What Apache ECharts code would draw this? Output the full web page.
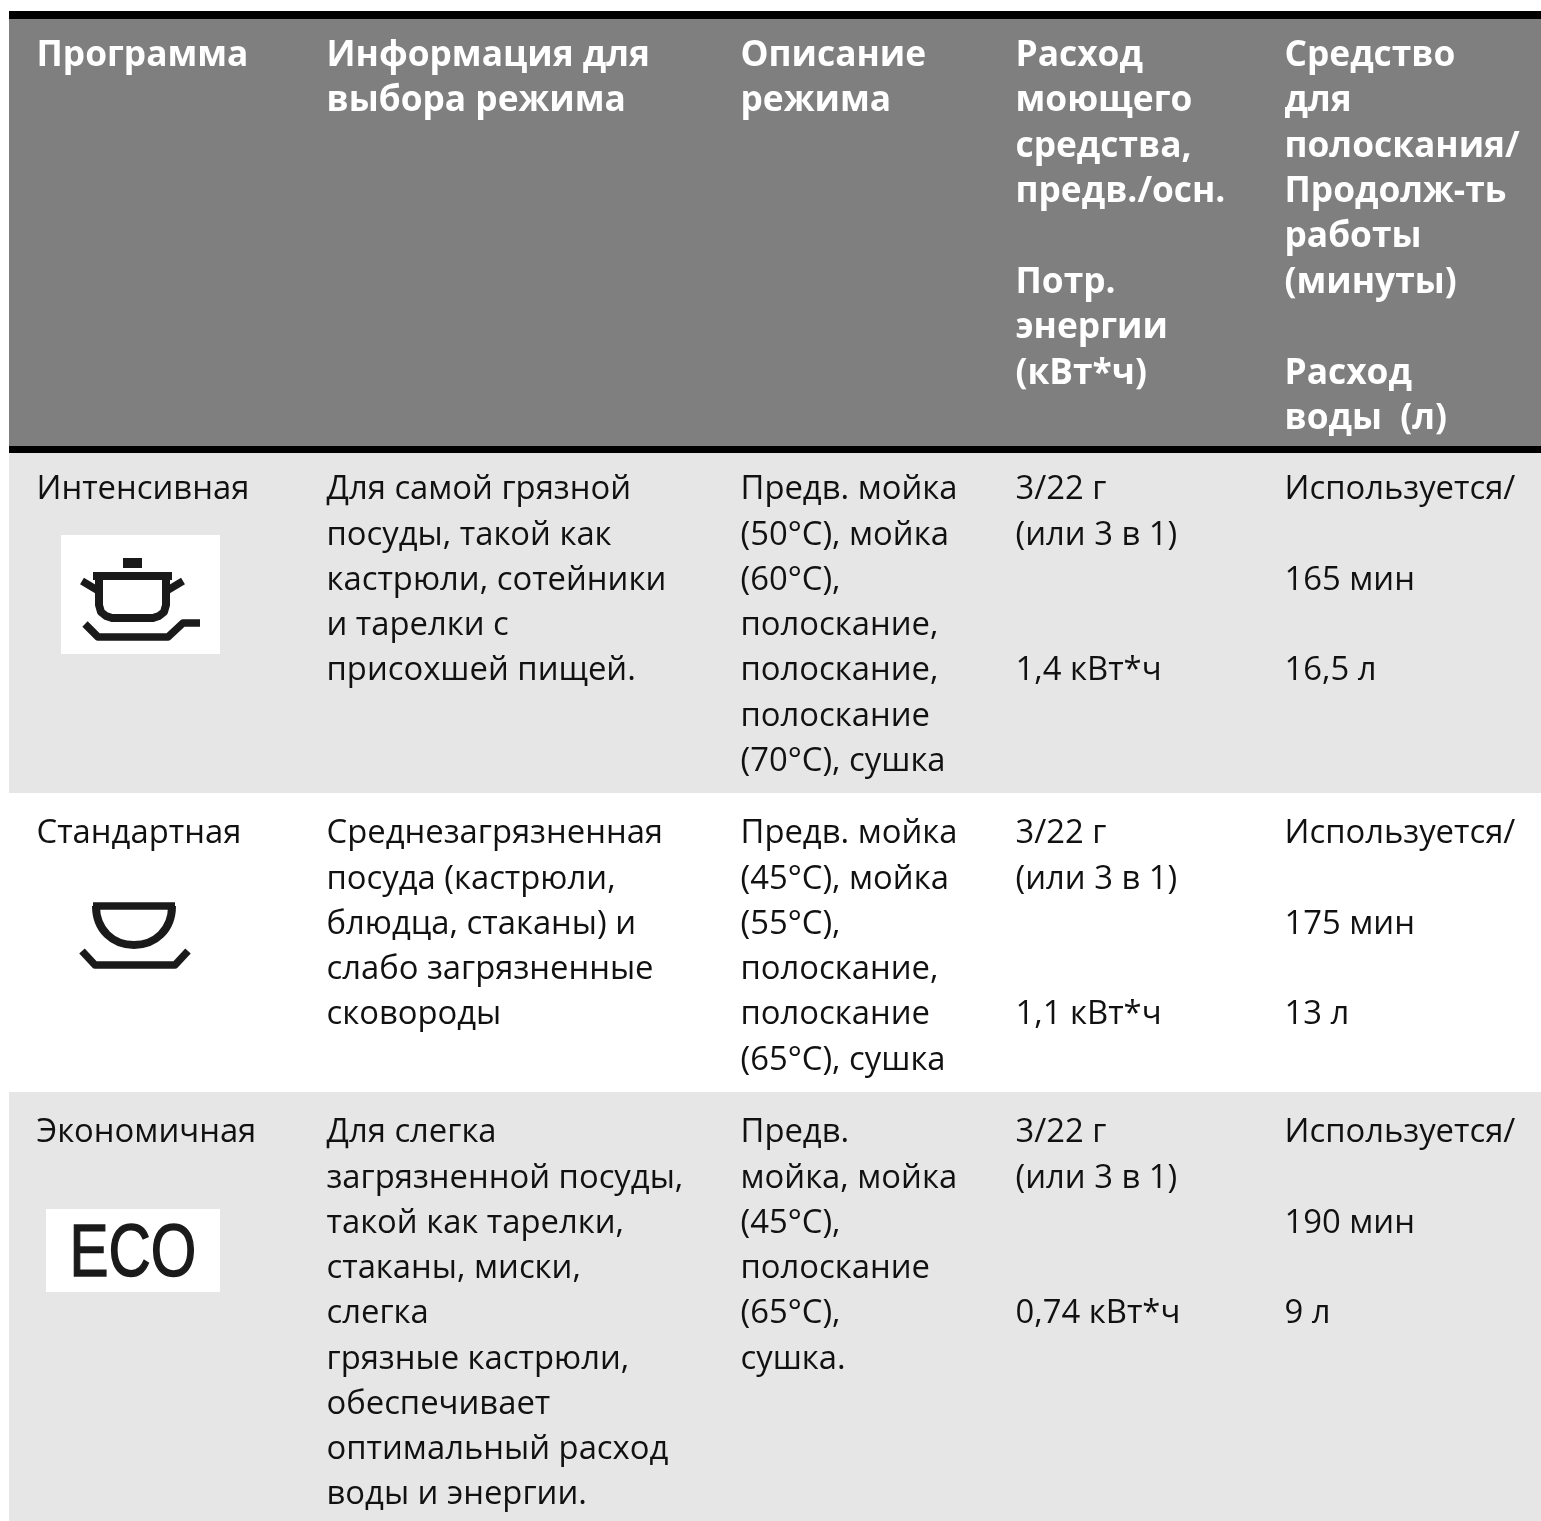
<!DOCTYPE html>
<html><head><meta charset="utf-8">
<style>html,body{margin:0;padding:0;background:#fff}#c{width:1541px;height:1521px}</style>
<script src="https://cdn.jsdelivr.net/npm/echarts@6/dist/echarts.min.js"></script>
</head><body><div id="c"></div>
<script>
const columnX = [36.5, 326.5, 740.5, 1015.5, 1284.5];
const headers = [
  ["Программа"],
  ["Информация для", "выбора режима"],
  ["Описание", "режима"],
  ["Расход", "моющего", "средства,", "предв./осн.", "", "Потр.", "энергии", "(кВт*ч)"],
  ["Средство", "для", "полоскания/", "Продолж-ть", "работы", "(минуты)", "", "Расход", "воды  (л)"]
];
const programs = ["Интенсивная", "Стандартная", "Экономичная"];
const info = [
  ["Для самой грязной", "посуды, такой как", "кастрюли, сотейники", "и тарелки с", "присохшей пищей."],
  ["Среднезагрязненная", "посуда (кастрюли,", "блюдца, стаканы) и", "слабо загрязненные", "сковороды"],
  ["Для слегка", "загрязненной посуды,", "такой как тарелки,", "стаканы, миски,", "слегка", "грязные кастрюли,", "обеспечивает", "оптимальный расход", "воды и энергии."]
];
const descr = [
  ["Предв. мойка", "(50°C), мойка", "(60°C),", "полоскание,", "полоскание,", "полоскание", "(70°C), сушка"],
  ["Предв. мойка", "(45°C), мойка", "(55°C),", "полоскание,", "полоскание", "(65°C), сушка"],
  ["Предв.", "мойка, мойка", "(45°C),", "полоскание", "(65°C),", "сушка."]
];
const detergent = [
  ["3/22 г", "(или 3 в 1)", "", "", "1,4 кВт*ч"],
  ["3/22 г", "(или 3 в 1)", "", "", "1,1 кВт*ч"],
  ["3/22 г", "(или 3 в 1)", "", "", "0,74 кВт*ч"]
];
const rinse = [
  ["Используется/", "", "165 мин", "", "16,5 л"],
  ["Используется/", "", "175 мин", "", "13 л"],
  ["Используется/", "", "190 мин", "", "9 л"]
];

const HEAD_PITCH = 45.35;
const BODY_PITCH = 45.25;
const HEAD_FONT = 'bold 35.3px "Open Sans"';
const BODY_FONT = '32.8px "Open Sans"';
const INK = '#1a1a1a';
const els = [];
function rect(x, y, w, h, fill) {
  els.push({type:'rect', silent:true, shape:{x, y, width:w, height:h}, style:{fill}});
}
function text(str, x, midY, font, fill) {
  if (!str) return;
  els.push({type:'text', silent:true, x, y:midY, style:{text:str, font, fill, align:'left', verticalAlign:'middle'}});
}
function line(points, width) {
  els.push({type:'polyline', silent:true, shape:{points}, style:{stroke:INK, fill:null, lineWidth:width, lineJoin:'round'}});
}
function curve(x1, y1, cpx1, cpy1, cpx2, cpy2, x2, y2, width) {
  els.push({type:'bezierCurve', silent:true, shape:{x1, y1, x2, y2, cpx1, cpy1, cpx2, cpy2}, style:{stroke:INK, fill:null, lineWidth:width}});
}
// bands
rect(9, 11, 1532, 8, '#000');
rect(9, 19, 1532, 427, '#7f7f7f');
rect(9, 446, 1532, 7, '#000');
rect(9, 453, 1532, 340, '#e6e6e6');
rect(9, 1092, 1532, 429, '#e6e6e6');
// header
headers.forEach((lines, c) => lines.forEach((s, i) => text(s, columnX[c], 56 + HEAD_PITCH * i, HEAD_FONT, '#fff')));
// rows
const rowMid = [490, 834, 1133];
programs.forEach((p, r) => {
  text(p, columnX[0], rowMid[r], BODY_FONT, '#111');
  [info, descr, detergent, rinse].forEach((col, k) => col[r].forEach((s, i) =>
    text(s, columnX[k + 1], rowMid[r] + BODY_PITCH * i, BODY_FONT, '#111')));
});
// pot icon
rect(61, 535, 159, 119, '#fff');
rect(123, 558, 19, 10, INK);
rect(93, 572, 79, 8, INK);
line([[99,576],[99,605],[101,612],[106,616],[112,618],[153,618],[159,616],[164,612],[166,605],[166,576]], 8);
line([[82,581],[97,590]], 7.5);
line([[183,581],[168,590]], 7.5);
line([[85,624],[98,637],[168,637],[183,623],[200,623]], 7.5);
// bowl icon
line([[93,906],[175,906]], 7.5);
curve(96,906, 96,930, 113,945, 134,945, 8);
curve(134,945, 155,945, 172,930, 172,906, 8);
line([[82,951],[95,965],[175,965],[188,951]], 7.5);
// eco icon
rect(46, 1209, 174, 83, '#fff');
els.push({type:'text', silent:true, x:69.4, y:1255, scaleX:0.78, style:{text:'ECO', font:'75px "Liberation Sans"', fill:INK, stroke:INK, lineWidth:1.5, verticalAlign:'middle'}});

const chart = echarts.init(document.getElementById('c'), null, {renderer:'canvas', width:1541, height:1521});
chart.setOption({backgroundColor:'#fff', animation:false, graphic:{elements:els}});
</script></body></html>
